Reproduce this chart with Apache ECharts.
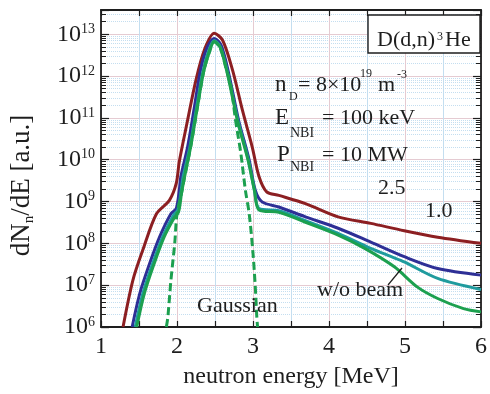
<!DOCTYPE html>
<html><head><meta charset="utf-8">
<script src="https://cdn.jsdelivr.net/npm/echarts@6/dist/echarts.min.js"></script>
<style>html,body{margin:0;padding:0;background:#fff}#c{width:490px;height:394px}</style>
</head><body><div id="c"></div>
<script>
// x tick values (MeV) and decade range of y
const energyMin = 1, energyMax = 6, energyStep = 0.5;
const yieldMin = 1e6, yieldMax = 3.8e13;

// [neutron energy MeV, dN/dE a.u.]
const spectrumDark = [
  [1.29,1.0e6],[1.42,1.32e7],[1.55,6.9e7],[1.73,5.1e8],[1.90,1.07e9],[1.99,2.7e9],
  [2.03,9.0e9],[2.14,8.9e10],[2.25,8.1e11],[2.36,4.2e12],[2.49,1.05e13],[2.60,7.2e12],
  [2.73,1.4e12],[2.86,1.55e11],[2.99,2.0e10],[3.08,3.9e9],[3.18,1.7e9],[3.34,1.4e9],
  [3.69,8.9e8],[4.12,4.3e8],[4.55,3.0e8],[4.99,2.0e8],[5.43,1.4e8],[6.0,1.0e8]
];
const spectrumBlue = [
  [1.41,1.0e6],[1.51,6.3e6],[1.64,3.3e7],[1.77,1.41e8],[1.92,5.1e8],[1.99,6.8e8],
  [2.03,1.86e9],[2.05,3.9e9],[2.14,2.04e10],[2.23,1.86e11],[2.31,1.41e12],[2.40,5.0e12],
  [2.49,7.9e12],[2.58,5.5e12],[2.68,1.17e12],[2.81,8.9e10],[2.95,9.8e9],[3.03,1.86e9],
  [3.12,9.8e8],[3.34,7.4e8],[3.69,4.3e8],[4.12,2.3e8],[4.55,1.07e8],[4.99,4.8e7],
  [5.43,2.5e7],[6.0,1.74e7]
];
const spectrumTeal = [
  [1.45,1.0e6],[1.55,6.3e6],[1.68,3.3e7],[1.81,1.41e8],[1.95,4.6e8],[2.01,6.3e8],
  [2.05,1.6e9],[2.08,3.9e9],[2.17,2.04e10],[2.26,1.86e11],[2.34,1.26e12],[2.42,4.2e12],
  [2.49,7.1e12],[2.57,5.0e12],[2.67,1.12e12],[2.80,8.9e10],[2.94,9.8e9],[3.02,1.86e9],
  [3.08,6.8e8],[3.34,6.0e8],[3.69,3.5e8],[4.12,1.74e8],[4.55,7.6e7],[4.82,4.8e7],
  [4.99,3.6e7],[5.43,1.45e7],[6.0,7.9e6]
];
const spectrumNoBeam = [
  [1.47,1.0e6],[1.57,6.3e6],[1.70,3.3e7],[1.83,1.41e8],[1.96,4.0e8],[2.02,5.6e8],
  [2.06,1.6e9],[2.10,3.9e9],[2.18,2.04e10],[2.27,1.86e11],[2.35,1.26e12],[2.43,4.0e12],
  [2.49,6.6e12],[2.57,4.8e12],[2.67,1.0e12],[2.80,7.9e10],[2.94,8.9e9],[3.02,1.78e9],
  [3.08,6.3e8],[3.34,5.5e8],[3.69,3.2e8],[4.12,1.58e8],[4.47,7.6e7],[4.86,2.75e7],
  [5.16,9.1e6],[5.43,4.8e6],[5.77,2.75e6],[6.0,2.3e6]
];
const spectrumGauss = [
  [1.86,1.0e6],[1.88,1.74e6],[1.92,1.32e7],[1.97,1.0e8],[2.00,5.1e8],[2.06,1.6e9],
  [2.10,3.9e9],[2.18,2.04e10],[2.27,1.86e11],[2.35,1.26e12],[2.43,4.0e12],[2.49,6.6e12],
  [2.57,4.6e12],[2.64,1.66e12],[2.71,5.6e11],[2.77,8.9e10],[2.84,1.41e10],[2.90,1.86e9],
  [2.95,5.1e8],[3.00,5.8e7],[3.03,9.1e6],[3.05,1.74e6],[3.06,1.0e6]
];

const serif = '"Liberation Serif", "Times New Roman", serif';
const ink = '#1e1e1e';
const pink = '#e5cbd2', pale = '#c4def0';

function line(data, color, dashed) {
  return {
    type: 'line', data: data, showSymbol: false, smooth: 0.3, clip: true,
    lineStyle: { color: color, width: 3, type: dashed ? [8, 4] : 'solid' },
    emphasis: { disabled: true }
  };
}
// annotation text piece: x = left edge, y = vertical middle of glyphs
function note(x, y, str, size) {
  return { type: 'text', z: 51, style: {
    x: x, y: y, text: str, fontFamily: serif, fontSize: size, fill: ink,
    align: 'left', verticalAlign: 'middle' } };
}

const xBase = {
  type: 'value', min: energyMin, max: energyMax, interval: energyStep,
  axisLine: { show: true, onZero: false, lineStyle: { color: ink, width: 1.8 } },
  axisTick: { show: true, inside: true, length: 6, lineStyle: { color: ink, width: 1.2 } }
};
const yBase = {
  type: 'log', logBase: 10, min: yieldMin, max: yieldMax, splitNumber: 8,
  axisLine: { show: true, lineStyle: { color: ink, width: 1.8 } },
  axisTick: { show: true, inside: true, length: 8, lineStyle: { color: ink, width: 1.2 } },
  minorTick: { show: true, splitNumber: 9, length: 5, lineStyle: { color: ink, width: 1 } }
};

const chart = echarts.init(document.getElementById('c'), null, { renderer: 'canvas' });
chart.setOption({
  animation: false,
  backgroundColor: '#fff',
  grid: { left: 101, right: 6, top: 10, bottom: 67, containLabel: false },
  xAxis: [
    Object.assign({}, xBase, {
      position: 'bottom',
      axisLabel: {
        margin: 8, fontFamily: serif, fontSize: 24, color: ink,
        formatter: v => Number.isInteger(v) ? String(v) : ''
      },
      splitLine: { show: true, lineStyle: { color: [pink, pale], width: 1 } },
      name: 'neutron energy [MeV]', nameLocation: 'middle', nameGap: 38,
      nameTextStyle: { fontFamily: serif, fontSize: 24, color: ink }
    }),
    Object.assign({}, xBase, {
      position: 'top', axisLabel: { show: false }, splitLine: { show: false }
    })
  ],
  yAxis: [
    Object.assign({}, yBase, {
      position: 'left',
      axisLabel: {
        margin: 6, showMaxLabel: false,
        formatter: v => '{b|10}{e|' + Math.round(Math.log10(v)) + '}',
        rich: {
          b: { fontFamily: serif, fontSize: 24, lineHeight: 24, color: ink },
          e: { fontFamily: serif, fontSize: 14, lineHeight: 14, color: ink, verticalAlign: 'top' }
        }
      },
      splitLine: { show: true, lineStyle: { color: pink, width: 1 } },
      minorSplitLine: { show: true, lineStyle: { color: pale, width: 1, type: 'dotted' } },
      name: '{a|dN}{s|n}{a|/dE [a.u.]}', nameLocation: 'middle', nameRotate: 90, nameGap: 64,
      nameTextStyle: {
        padding: [0, 34, 0, 0],
        rich: {
          a: { fontFamily: serif, fontSize: 27, lineHeight: 30, color: ink },
          s: { fontFamily: serif, fontSize: 15, lineHeight: 15, color: ink, verticalAlign: 'bottom' }
        }
      }
    }),
    Object.assign({}, yBase, {
      position: 'right', axisLabel: { show: false },
      splitLine: { show: false }, minorSplitLine: { show: false }
    })
  ],
  series: [
    line(spectrumDark, '#8c1f22'),
    line(spectrumBlue, '#2e2f96'),
    line(spectrumTeal, '#1f9b9e'),
    line(spectrumNoBeam, '#1ca04f'),
    line(spectrumGauss, '#1ca04f', true)
  ],
  graphic: [
    { type: 'rect', z: 50, shape: { x: 368, y: 15, width: 112, height: 38 },
      style: { fill: '#fff', stroke: ink, lineWidth: 1.4 } },
    note(377, 40, 'D(d,n)', 22), note(437, 37, '3', 12), note(445, 40, 'He', 22),
    note(275, 85, 'n', 23), note(289, 96.5, 'D', 12), note(298, 85, '= 8×10', 22),
    note(360, 74, '19', 12), note(378, 85, 'm', 22), note(397, 75, '-3', 12),
    note(275, 118, 'E', 23), note(290, 133, 'NBI', 14), note(322, 118, '= 100 keV', 22),
    note(277, 155, 'P', 23), note(290, 167.5, 'NBI', 14), note(322, 155, '= 10 MW', 22),
    note(378, 188, '2.5', 22),
    note(425, 211, '1.0', 22),
    note(197, 306, 'Gaussian', 22),
    note(317, 290, 'w/o beam', 22),
    { type: 'line', z: 51, shape: { x1: 388, y1: 285, x2: 402, y2: 268 }, style: { stroke: ink, lineWidth: 1.2 } }
  ]
});
</script></body></html>
